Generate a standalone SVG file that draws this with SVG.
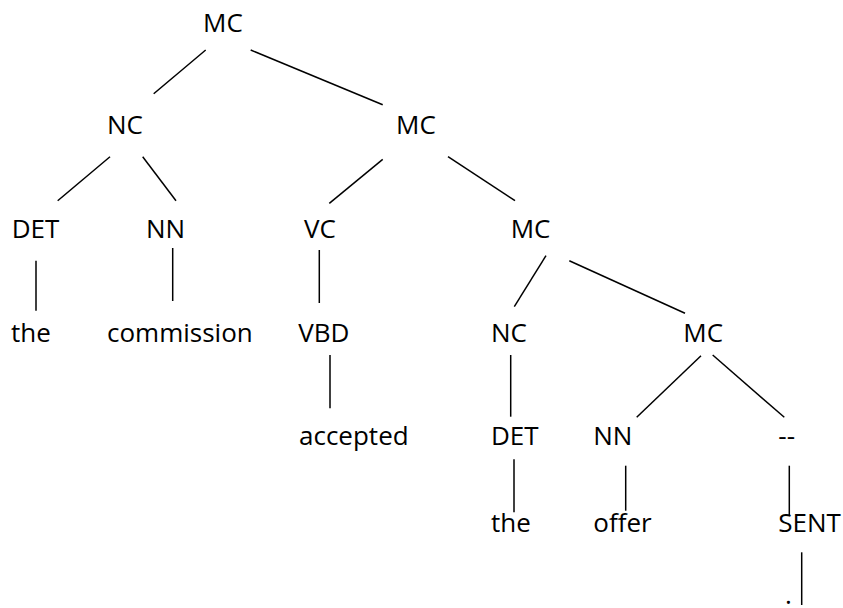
<svg xmlns="http://www.w3.org/2000/svg" width="843" height="608" viewBox="0 0 843 608">
<style>
text { font-family: "Open Sans", "Noto Sans", sans-serif; font-size: 26px; fill: #000; }
line { stroke: #000; stroke-width: 1.5; }
</style>
<rect width="843" height="608" fill="#fff"/>
<g id="connectors">
<line x1="205.7" y1="50" x2="153.7" y2="93.7"/>
<line x1="250.7" y1="50" x2="382.7" y2="104.7"/>
<line x1="110" y1="156.7" x2="57.7" y2="200.7"/>
<line x1="142.7" y1="156.7" x2="176" y2="200.7"/>
<line x1="382.7" y1="159.3" x2="329.3" y2="203.3"/>
<line x1="448" y1="156.7" x2="515" y2="200.7"/>
<line x1="36" y1="260.7" x2="36" y2="310.7"/>
<line x1="172.7" y1="248" x2="172.7" y2="301"/>
<line x1="319.3" y1="250" x2="319.3" y2="303"/>
<line x1="546" y1="255.7" x2="514.3" y2="306.7"/>
<line x1="569.3" y1="260.7" x2="685" y2="313.3"/>
<line x1="330" y1="355" x2="330" y2="408.3"/>
<line x1="510.7" y1="355" x2="510.7" y2="416.7"/>
<line x1="701" y1="355.7" x2="636.7" y2="417.3"/>
<line x1="712.7" y1="355" x2="784.3" y2="417.3"/>
<line x1="514" y1="459.3" x2="514" y2="512.3"/>
<line x1="625.7" y1="465.7" x2="625.7" y2="510.7"/>
<line x1="789.3" y1="465.7" x2="789.3" y2="515"/>
<line x1="801.7" y1="552.3" x2="801.7" y2="605"/>
</g>
<g id="n_mc1"><text x="203" y="32">MC</text></g>
<g id="n_nc2"><text x="107" y="134">NC</text></g>
<g id="n_mc2"><text x="396" y="134">MC</text></g>
<g id="n_det3"><text x="11.7" y="238">DET</text></g>
<g id="n_nn3"><text x="146" y="238">NN</text></g>
<g id="n_vc3"><text x="304" y="238">VC</text></g>
<g id="n_mc3"><text x="510.7" y="238">MC</text></g>
<g id="n_the4"><text x="11" y="342">the</text></g>
<g id="n_commission"><text x="107" y="342">commission</text></g>
<g id="n_vbd"><text x="298.3" y="342">VBD</text></g>
<g id="n_nc4"><text x="491" y="342">NC</text></g>
<g id="n_mc4"><text x="683.3" y="342">MC</text></g>
<g id="n_accepted"><text x="299" y="445">accepted</text></g>
<g id="n_det5"><text x="491" y="445">DET</text></g>
<g id="n_nn5"><text x="593.3" y="445">NN</text></g>
<g id="n_dash"><text x="778.3" y="445">--</text></g>
<g id="n_the6"><text x="491" y="532">the</text></g>
<g id="n_offer"><text x="593.3" y="532">offer</text></g>
<g id="n_sent"><text x="778.3" y="532">SENT</text></g>
<g id="n_period"><text x="785" y="604">.</text></g>
</svg>
